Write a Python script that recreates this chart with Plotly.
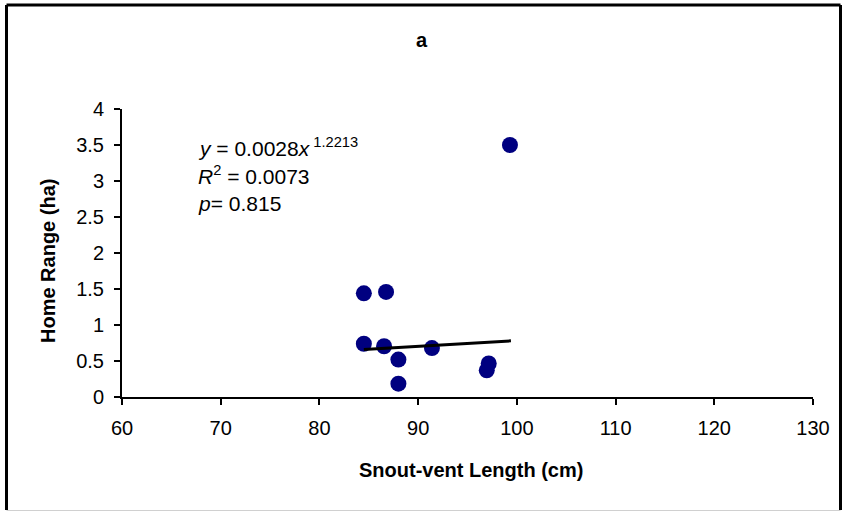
import plotly.graph_objects as go

# Data
svl_cm = [84.5, 86.75, 84.5, 86.55, 88.0, 88.0, 91.4, 97.15, 96.95, 99.3]
home_range_ha = [1.44, 1.46, 0.74, 0.705, 0.52, 0.185, 0.68, 0.465, 0.37, 3.50]

trend_x = [84.5, 99.4]
trend_y = [0.66, 0.78]

x_ticks = [60, 70, 80, 90, 100, 110, 120, 130]
y_ticks = [0, 0.5, 1, 1.5, 2, 2.5, 3, 3.5, 4]

FONT = "Liberation Sans, Arial, sans-serif"
W, H = 843, 512
L, R, T, B = 122, 30, 109, 115
PW, PH = W - L - R, H - T - B


def px(xp):
    return (xp - L) / PW


def py(yp):
    return (H - B - yp) / PH


fig = go.Figure()
fig.add_trace(go.Scatter(
    x=svl_cm, y=home_range_ha, mode="markers",
    marker=dict(color="#000080", size=16, line=dict(width=0)),
    showlegend=False, hoverinfo="skip"))
fig.add_trace(go.Scatter(
    x=trend_x, y=trend_y, mode="lines",
    line=dict(color="black", width=3),
    showlegend=False, hoverinfo="skip"))

axis_common = dict(
    showgrid=False, zeroline=False, showline=True, linecolor="black",
    linewidth=2, ticks="outside", ticklen=6, tickwidth=2, tickcolor="black",
    tickfont=dict(family=FONT, size=20, color="black"))

fig.update_xaxes(range=[60, 130], tickvals=x_ticks,
                 ticktext=[str(v) for v in x_ticks], ticklabelstandoff=6,
                 **axis_common)
fig.update_yaxes(range=[0, 4], tickvals=y_ticks,
                 ticktext=[("%g" % v) for v in y_ticks], ticklabelstandoff=6,
                 **axis_common)

annotations = [
    dict(text="<b>a</b>", x=px(422), y=py(40), xanchor="center", yanchor="middle",
         font=dict(size=20)),
    dict(text="<b>Snout-vent Length (cm)</b>", x=px(471), y=py(470),
         xanchor="center", yanchor="middle", font=dict(size=20)),
    dict(text="<b>Home Range (ha)</b>", x=px(48), y=py(261), textangle=-90,
         xanchor="center", yanchor="middle", font=dict(size=20)),
    dict(text="<i>y</i> = 0.0028<i>x</i><sup> 1.2213</sup>", x=px(196), y=py(147),
         xanchor="left", yanchor="middle", font=dict(size=21)),
    dict(text="<i>R</i><sup>2</sup> = 0.0073", x=px(196), y=py(175),
         xanchor="left", yanchor="middle", font=dict(size=21)),
    dict(text="<i>p</i>= 0.815", x=px(196), y=py(203),
         xanchor="left", yanchor="middle", font=dict(size=21)),
]
for a in annotations:
    a.update(xref="paper", yref="paper", showarrow=False)
    a["font"].update(family=FONT, color="black")

shapes = [
    dict(type="line", x0=px(6.5), x1=px(6.5), y0=py(5), y1=py(510)),
    dict(type="line", x0=px(6.5), x1=px(840.5), y0=py(5), y1=py(5)),
    dict(type="line", x0=px(840.5), x1=px(840.5), y0=py(5), y1=py(510)),
]
for s in shapes:
    s.update(xref="paper", yref="paper", line=dict(color="black", width=3))
shapes.append(dict(type="line", xref="paper", yref="paper", x0=px(6.5), x1=px(840.5),
                   y0=py(510.5), y1=py(510.5), line=dict(color="#d0d0d0", width=1)))

fig.update_layout(
    width=W, height=H, margin=dict(l=L, r=R, t=T, b=B, autoexpand=False),
    paper_bgcolor="white", plot_bgcolor="white",
    font=dict(family=FONT, color="black"),
    annotations=annotations, shapes=shapes, showlegend=False)

fig.write_html(
    "out.html",
    config={"displayModeBar": False},
    post_script="document.body.style.margin='0';document.body.style.overflow='hidden';",
)
